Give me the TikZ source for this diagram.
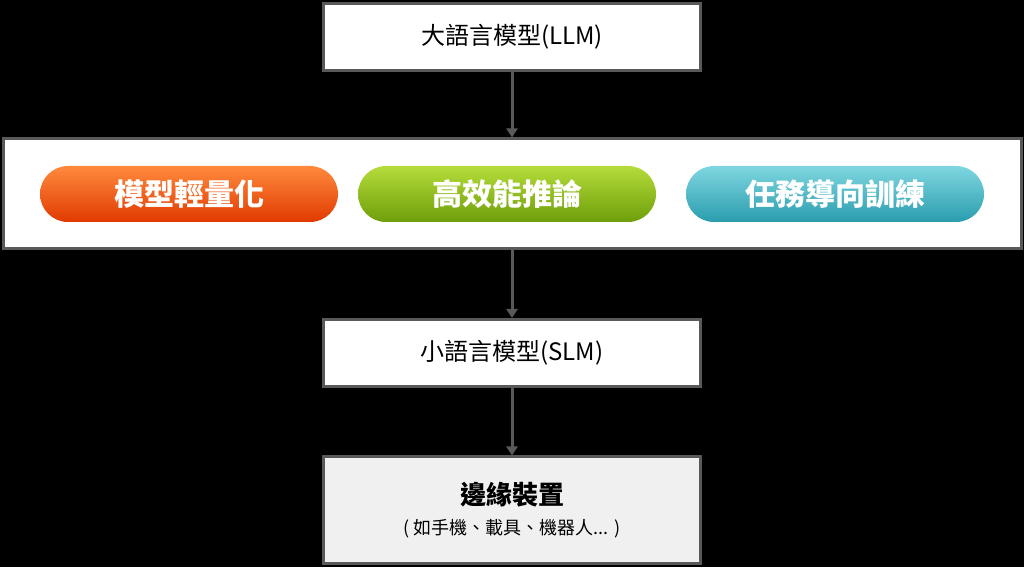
\documentclass[tikz,border=0pt]{standalone}
\usepackage{fontspec}
\setmainfont{Noto Sans CJK TC}
\usetikzlibrary{arrows.meta,positioning}
\definecolor{framegray}{HTML}{595959}
\definecolor{pillorangeA}{HTML}{FF8A3D}
\definecolor{pillorangeB}{HTML}{E03A00}
\definecolor{pillgreenA}{HTML}{B5DC3A}
\definecolor{pillgreenB}{HTML}{6E9E0A}
\definecolor{pilltealA}{HTML}{7FD6E0}
\definecolor{pilltealB}{HTML}{2A9DAE}
\tikzset{
  stage/.style={draw=framegray, line width=3pt, fill=white, minimum width=377pt, minimum height=67pt, font=\fontsize{24}{28}\selectfont},
  pill/.style={rounded corners=28pt, minimum width=298pt, minimum height=56pt, text=white, font=\fontsize{30}{34}\selectfont\bfseries},
  flow/.style={draw=framegray, line width=3pt, -{Triangle[length=9pt,width=11pt]}}
}
\begin{document}
\begin{tikzpicture}[x=1pt,y=1pt]
	\fill[black] (0,0) rectangle (1024,567);
	\useasboundingbox (0,0) rectangle (1024,567);
	\node[stage] (llm) at (512,530) {大語言模型(LLM)};
	\node[draw=framegray, line width=3pt, fill=white, minimum width=1018pt, minimum height=110pt] (tech) at (512,373) {};
	\node[pill, top color=pillorangeA, bottom color=pillorangeB] (quant) at (189,373) {模型輕量化};
	\node[pill, top color=pillgreenA, bottom color=pillgreenB] (infer) at (507,373) {高效能推論};
	\node[pill, top color=pilltealA, bottom color=pilltealB] (task) at (835,373) {任務導向訓練};
	\node[stage] (slm) at (512,214) {小語言模型(SLM)};
	\node[stage, fill=gray!12, minimum height=106pt, align=center] (edge) at (512,57)
		{{\fontsize{26}{30}\selectfont\bfseries 邊緣裝置}\\[2pt]{\fontsize{18}{22}\selectfont ( 如手機、載具、機器人... )}};
	\draw[flow] (llm) -- (tech);
	\draw[flow] (tech) -- (slm);
	\draw[flow] (slm) -- (edge);
\end{tikzpicture}
\end{document}
